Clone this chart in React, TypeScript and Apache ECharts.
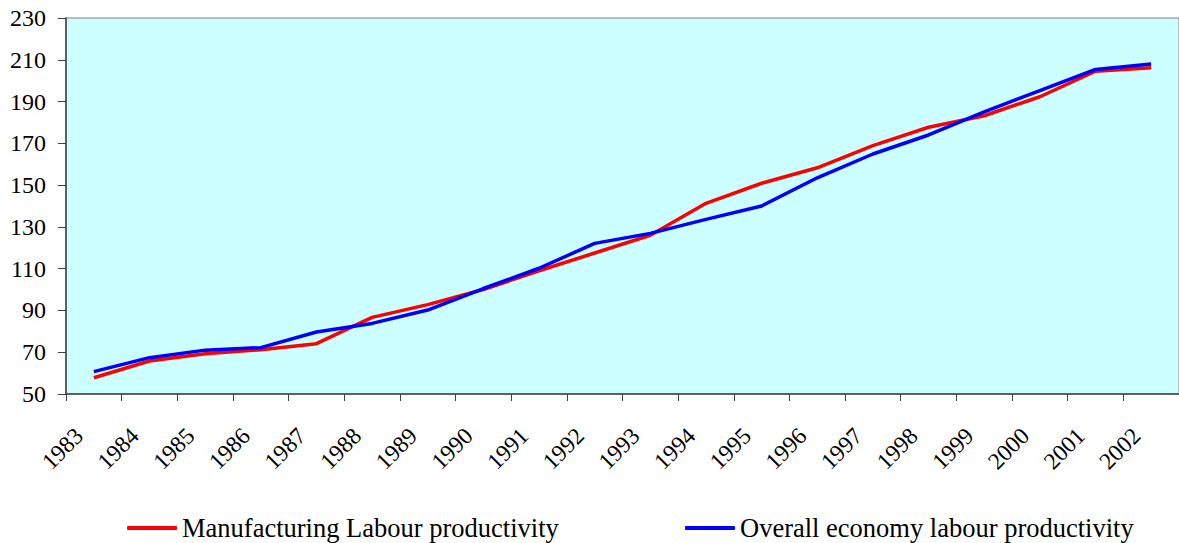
import React, { useEffect, useRef } from "react";
import * as echarts from "echarts";

const years = ["1983","1984","1985","1986","1987","1988","1989","1990","1991","1992","1993","1994","1995","1996","1997","1998","1999","2000","2001","2002"];
const manufacturing = [57.8, 65.8, 69.3, 71.2, 74.1, 86.7, 92.8, 100, 109, 117.5, 126, 141.3, 150.9, 158.3, 168.9, 177.7, 183.2, 192.3, 204.5, 206.2];
const overall = [60.7, 67.4, 71, 72.2, 79.7, 83.8, 90.2, 100.5, 110.2, 122.1, 126.9, 133.6, 140, 153.5, 164.9, 174, 185.1, 195.2, 205.4, 208];
const seriesNames = ["Manufacturing Labour productivity", "Overall economy labour productivity"];
const yMin = 50;
const yMax = 230;
const yStep = 20;

const FONT = "'Liberation Serif', 'Times New Roman', serif";

export default function App() {
  const ref = useRef<HTMLDivElement>(null);
  useEffect(() => {
    if (!ref.current) return;
    const chart = echarts.init(ref.current, null, { renderer: "svg" });
    const legendText = { fontFamily: FONT, fontSize: 26.5, color: "#000", lineHeight: 30 };
    chart.setOption({
      animation: false,
      backgroundColor: "#ffffff",
      grid: {
        left: 66,
        top: 18,
        width: 1118,
        height: 376,
        show: true,
        backgroundColor: "#ccffff",
        borderColor: "#808080",
        borderWidth: 1,
      },
      legend: [
        {
          data: [seriesNames[0]],
          left: 127,
          top: 513,
          padding: 0,
          itemWidth: 50,
          itemHeight: 4,
          icon: "roundRect",
          itemGap: 5,
          textStyle: legendText,
        },
        {
          data: [seriesNames[1]],
          left: 685,
          top: 513,
          padding: 0,
          itemWidth: 50,
          itemHeight: 4,
          icon: "roundRect",
          itemGap: 5,
          textStyle: legendText,
        },
      ],
      xAxis: {
        type: "category",
        data: years,
        boundaryGap: true,
        axisLine: { show: true, lineStyle: { color: "#404040", width: 1.5 } },
        axisTick: { show: true, length: 7, alignWithLabel: false, lineStyle: { color: "#404040", width: 1 } },
        axisLabel: {
          interval: 0,
          rotate: 45,
          margin: 23,
          padding: [0, 21, 0, 0],
          fontFamily: FONT,
          fontSize: 23.5,
          color: "#000",
        },
        splitLine: { show: false },
      },
      yAxis: {
        type: "value",
        min: yMin,
        max: yMax,
        interval: yStep,
        axisLine: { show: true, lineStyle: { color: "#404040", width: 1.5 } },
        axisTick: { show: true, length: 8, lineStyle: { color: "#404040", width: 1 } },
        axisLabel: { margin: 20, fontFamily: FONT, fontSize: 24, color: "#000" },
        splitLine: { show: false },
      },
      series: [
        {
          name: seriesNames[0],
          type: "line",
          data: manufacturing,
          showSymbol: false,
          symbol: "none",
          lineStyle: { color: "#ff0000", width: 3.5 },
          itemStyle: { color: "#ff0000" },
        },
        {
          name: seriesNames[1],
          type: "line",
          data: overall,
          showSymbol: false,
          symbol: "none",
          lineStyle: { color: "#0000ff", width: 3.5 },
          itemStyle: { color: "#0000ff" },
        },
      ],
    });
    return () => chart.dispose();
  }, []);
  return (
    <div
      ref={ref}
      style={{ position: "fixed", left: 0, top: 0, width: 1179, height: 543 }}
    />
  );
}
